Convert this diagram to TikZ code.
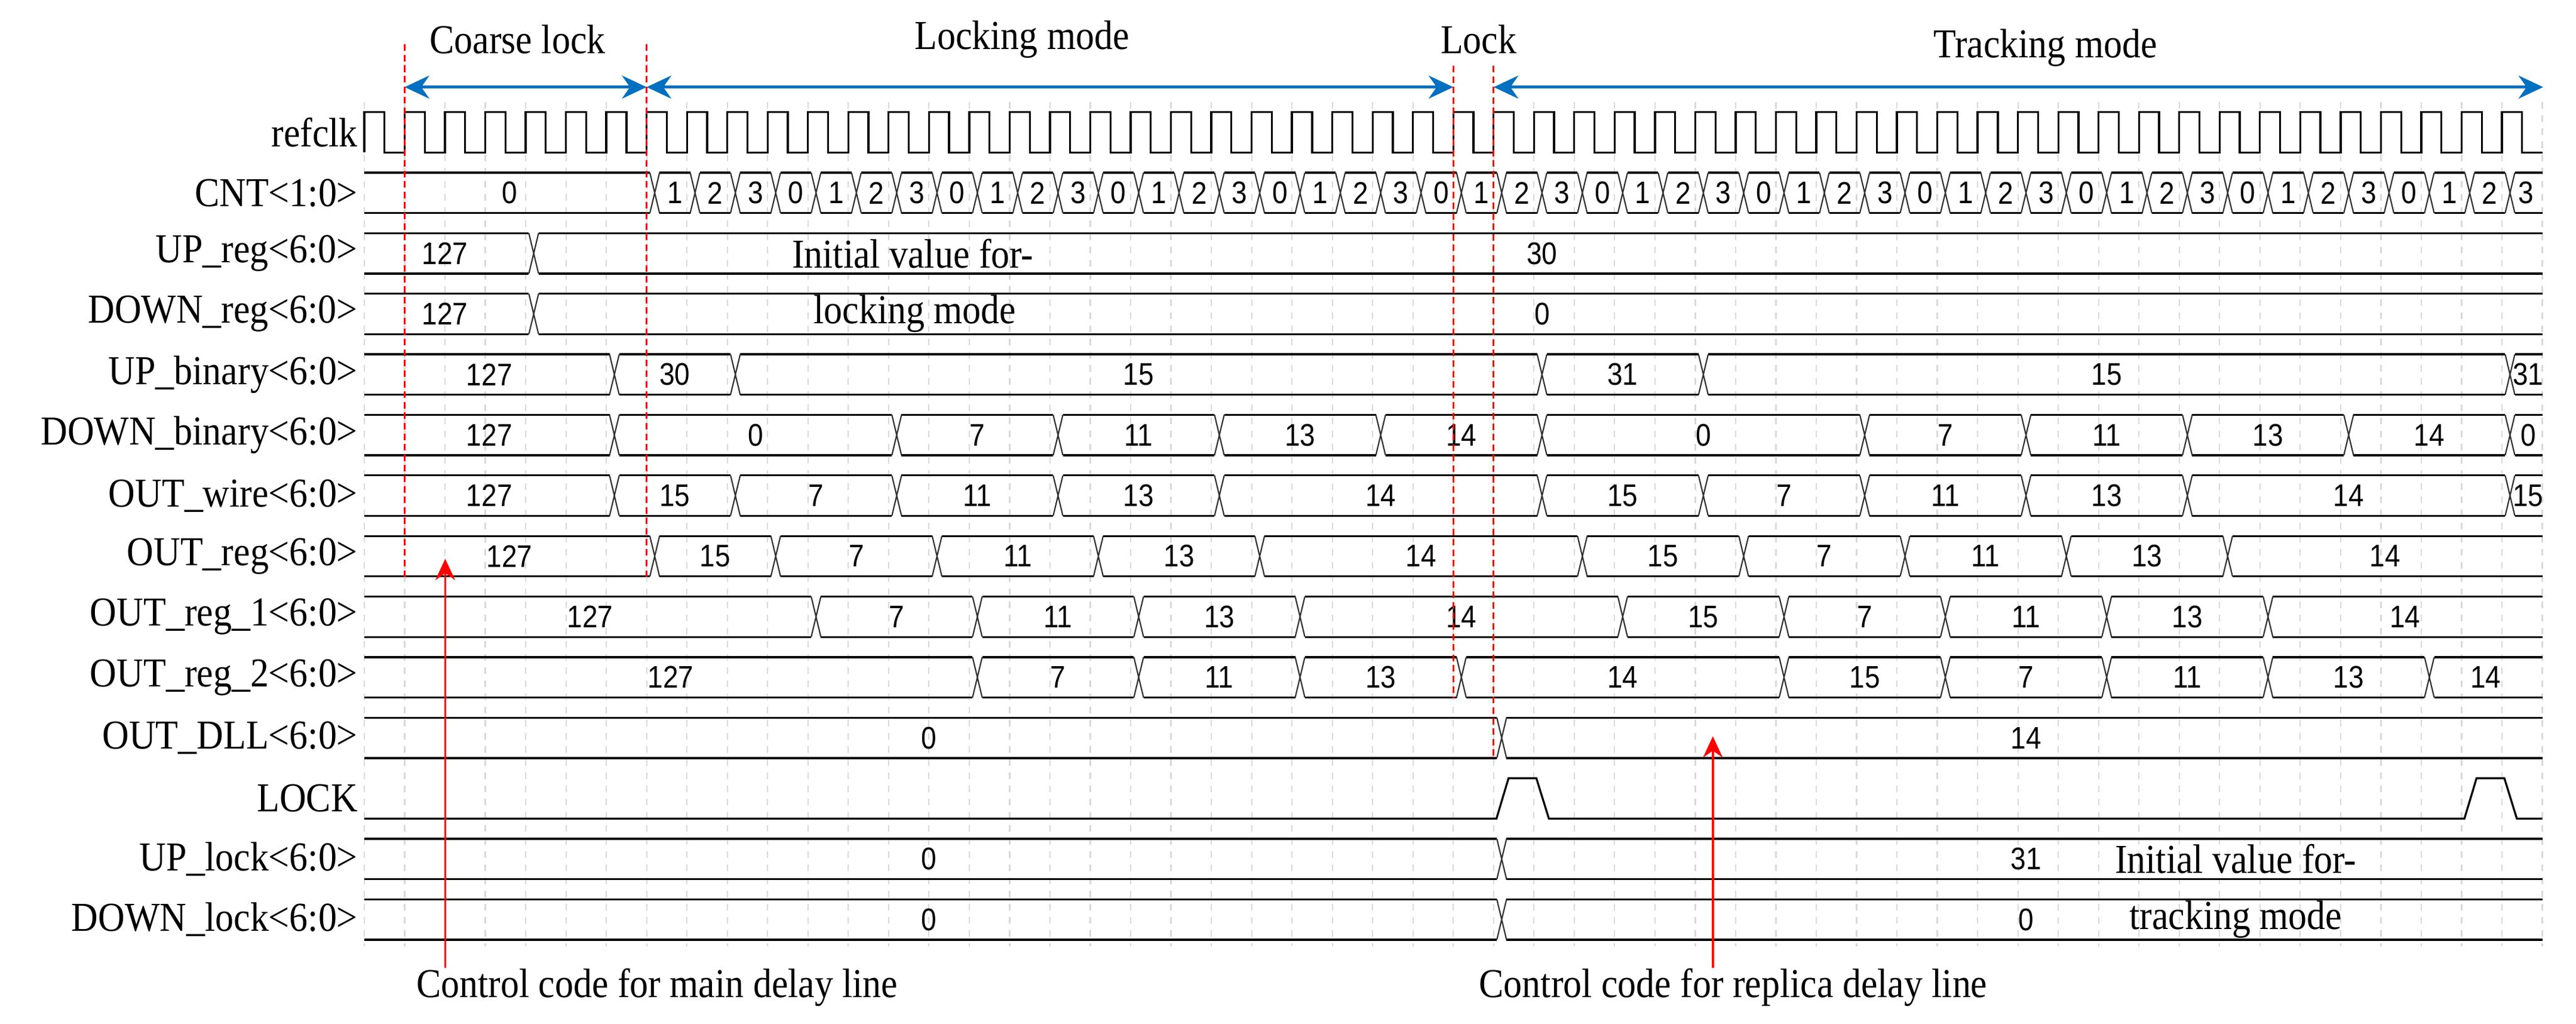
\documentclass[tikz,border=0pt]{standalone}
\usepackage{fontspec}
\setmainfont{Liberation Serif}
\newfontfamily\numfont{Liberation Sans}
\usetikzlibrary{arrows.meta}
\definecolor{myblue}{HTML}{0070C0}
\newcommand\busrow[2]{%
 \foreach \b [remember=\b as \a (initially -1.12)] in {#2,53.12}{%
   \draw[sig] (\a+0.12,#1) -- (\b-0.12,#1);
   \draw[sig] (\a+0.12,#1+24.6) -- (\b-0.12,#1+24.6);}%
 \foreach \c in {#2}{\draw[xsig] (\c-0.12,#1) -- (\c+0.12,#1+24.6) (\c-0.12,#1+24.6) -- (\c+0.12,#1);}}
\newcommand\buslab[2]{\foreach \p/\l in {#2}{\node[num] at (\p,#1+12.3) {\l};}}
\begin{document}
\begin{tikzpicture}[x=0.5pt,y=-0.5pt,
  sig/.style={line width=0.6pt,black},
  xsig/.style={line width=0.4pt,black!80},
  num/.style={font=\numfont\fontsize{9.5}{11}\selectfont,xscale=0.88,inner sep=0pt},
  lab/.style={font=\fontsize{12.5}{14}\selectfont,xscale=0.9,inner sep=0pt},
  rdash/.style={red,line width=0.6pt,dash pattern=on 2pt off 1.2pt},
  barrow/.style={myblue,line width=0.9pt,{Stealth[length=7.5pt,width=7pt]}-{Stealth[length=7.5pt,width=7pt]}},
  rarrow/.style={red,line width=0.6pt,-{Stealth[length=6.5pt,width=6pt]}}]
\useasboundingbox (0,0) rectangle (1568,623);
% top labels
\node[lab] (t1) at (315,24) {Coarse lock};
\node[lab] (t2) at (622,24) {Locking mode};
\node[lab] (t3) at (900,24) {Lock};
\node[lab] (t4) at (1245,29) {Tracking mode};
\draw[barrow] (246.3,53) -- (393.6,53);
\draw[barrow] (393.6,53) -- (884.6,53);
\draw[barrow] (909.2,53) -- (1548,53);
\begin{scope}[shift={(123.15pt,0pt)},x=12.275pt,y=-0.5pt]
% grid
\foreach \k in {-1,...,53} \draw[black!15,line width=0.4pt,dash pattern=on 2pt off 2pt] (\k,62) -- (\k,576);
% row labels
\foreach \yy/\n in {80.5/refclk,117.35/CNT<1:0>,154.2/UP\_reg<6:0>,191.05/DOWN\_reg<6:0>,227.9/UP\_binary<6:0>,264.75/DOWN\_binary<6:0>,301.6/OUT\_wire<6:0>,338.45/OUT\_reg<6:0>,375.3/OUT\_reg\_1<6:0>,412.15/OUT\_reg\_2<6:0>,449/OUT\_DLL<6:0>,485.85/LOCK,522.7/UP\_lock<6:0>,559.55/DOWN\_lock<6:0>}
  \node[lab,anchor=east] at (-1.15,\yy) {\n};
% clock
\draw[sig] (-1,92.8) \foreach \k in {-1,...,52}{ -- (\k,92.8) -- (\k,68.2) -- (\k+0.5,68.2) -- (\k+0.5,92.8)} -- (53,92.8);
% CNT
\busrow{105.05}{6.2,7.2,...,52.2}
\node[num] at (2.6,117.35) {0};
\foreach \k in {6,...,51}{\pgfmathtruncatemacro\v{mod(\k-5,4)}\node[num] at (\k+0.7,117.35) {\v};}
\node[num] at (52.6,117.35) {3};
% UP_reg, DOWN_reg
\busrow{141.9}{3.2}
\buslab{141.9}{1.0/127,28.2/30}
\busrow{178.75}{3.2}
\buslab{178.75}{1.0/127,28.2/0}
\node[lab] at (12.6,154.2) {Initial value for-};
\node[lab] at (12.65,191.05) {locking mode};
% UP_binary
\busrow{215.6}{5.2,8.2,28.2,32.2,52.2}
\buslab{215.6}{2.1/127,6.7/30,18.2/15,30.2/31,42.2/15,52.65/31}
% DOWN_binary
\busrow{252.45}{5.2,12.2,16.2,20.2,24.2,28.2,36.2,40.2,44.2,48.2,52.2}
\buslab{252.45}{2.1/127,8.7/0,14.2/7,18.2/11,22.2/13,26.2/14,32.2/0,38.2/7,42.2/11,46.2/13,50.2/14,52.65/0}
% OUT_wire
\busrow{289.3}{5.2,8.2,12.2,16.2,20.2,28.2,32.2,36.2,40.2,44.2,52.2}
\buslab{289.3}{2.1/127,6.7/15,10.2/7,14.2/11,18.2/13,24.2/14,30.2/15,34.2/7,38.2/11,42.2/13,48.2/14,52.65/15}
% OUT_reg
\busrow{326.15}{6.2,9.2,13.2,17.2,21.2,29.2,33.2,37.2,41.2,45.2}
\buslab{326.15}{2.6/127,7.7/15,11.2/7,15.2/11,19.2/13,25.2/14,31.2/15,35.2/7,39.2/11,43.2/13,49.1/14}
% OUT_reg_1
\busrow{363}{10.2,14.2,18.2,22.2,30.2,34.2,38.2,42.2,46.2}
\buslab{363}{4.6/127,12.2/7,16.2/11,20.2/13,26.2/14,32.2/15,36.2/7,40.2/11,44.2/13,49.6/14}
% OUT_reg_2
\busrow{399.85}{14.2,18.2,22.2,26.2,34.2,38.2,42.2,46.2,50.2}
\buslab{399.85}{6.6/127,16.2/7,20.2/11,24.2/13,30.2/14,36.2/15,40.2/7,44.2/11,48.2/13,51.6/14}
% OUT_DLL
\busrow{436.7}{27.2}
\buslab{436.7}{13/0,40.2/14}
% LOCK
\draw[sig] (-1,498.15) -- (27.07,498.15) -- (27.37,473.55) -- (28.06,473.55) -- (28.37,498.15) -- (51.07,498.15) -- (51.37,473.55) -- (52.06,473.55) -- (52.37,498.15) -- (53,498.15);
% UP_lock, DOWN_lock
\busrow{510.4}{27.2}
\buslab{510.4}{13/0,40.2/31}
\busrow{547.25}{27.2}
\buslab{547.25}{13/0,40.2/0}
\node[lab] at (45.4,522.7) {Initial value for-};
\node[lab] at (45.4,559.55) {tracking mode};
% red dashed lines
\draw[rdash] (0,27) -- (0,352);
\draw[rdash] (6,27) -- (6,352);
\draw[rdash] (26,40) -- (26,425);
\draw[rdash] (27,40) -- (27,462);
\end{scope}
% bottom annotations
\node[lab] (b1) at (400,601) {Control code for main delay line};
\node[lab] (b2) at (1055,601) {Control code for replica delay line};
\coordinate (h1) at (271,340);
\coordinate (h2) at (1042.6,448);
\draw[rarrow] (271,589) -- (h1);
\draw[rarrow] (1042.6,589) -- (h2);
\end{tikzpicture}
\end{document}
